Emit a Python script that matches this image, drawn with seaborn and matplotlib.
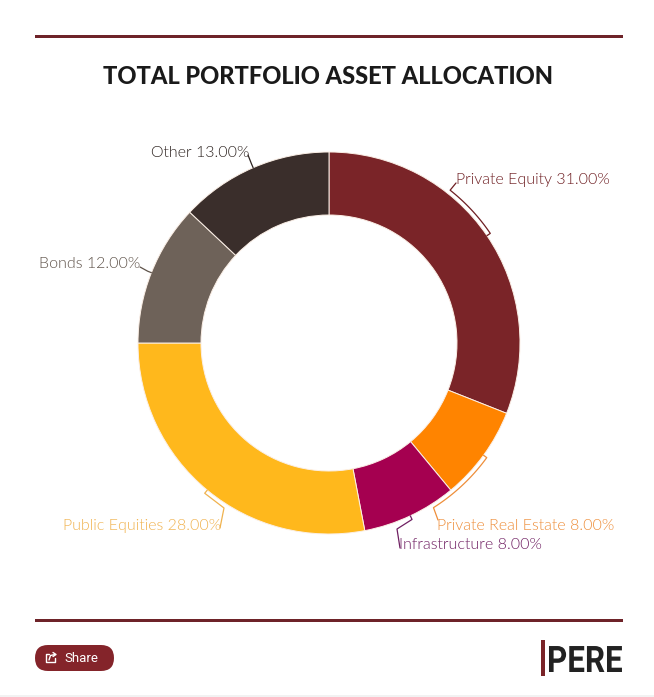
import numpy as np
import matplotlib
matplotlib.use("Agg")
import matplotlib.pyplot as plt
from matplotlib.patches import FancyBboxPatch, Rectangle
from matplotlib.patheffects import AbstractPathEffect
from matplotlib.transforms import Affine2D
import seaborn as sns

# Allocation data
categories = ["Private Equity", "Private Real Estate", "Infrastructure",
              "Public Equities", "Bonds", "Other"]
shares = [31.0, 8.0, 8.0, 28.0, 12.0, 13.0]
slice_hex = ["#7A2428", "#FF8400", "#A50050", "#FFB81C", "#6E6259", "#3A2E2B"]
label_hex = ["#6E1E22", "#EE8E3A", "#6F1F62", "#F0B24E", "#5E5249", "#2E2421"]

# Layout, in pixels
W, H = 654, 697
CX, CY = 329, 343
R_OUT, R_IN = 191, 128
label_anchor = [(456, 180, "left"), (437, 526, "left"), (399, 545, "left"),
                (221, 526, "right"), (140, 264, "right"), (249, 153, "right")]
# Each leader leaves the slice midpoint, optionally follows the ring to a
# clock angle, then runs through the elbow points towards its label.
leader_arc_end = [38.4, 147.6, None, None, None, None]
leader_tail = [[(456, 183)], [(438, 520)], [(397, 529), (400, 548)],
               [(224, 508), (220, 528)], [(140, 267)], [(248, 155)]]


class Squeeze(AbstractPathEffect):
    """Narrow a text's glyphs horizontally around a fixed x position."""

    def __init__(self, x0, factor):
        super().__init__()
        self.x0, self.factor = x0, factor

    def draw_path(self, renderer, gc, tpath, affine, rgbFace=None):
        squeeze = Affine2D().translate(-self.x0, 0).scale(self.factor, 1).translate(self.x0, 0)
        renderer.draw_path(gc, tpath, affine + squeeze, rgbFace)


sns.set_theme(style="white")
plt.rcParams["font.family"] = ["Lato", "DejaVu Sans"]
palette = sns.color_palette(slice_hex)

fig = plt.figure(figsize=(W / 100, H / 100), dpi=100, facecolor="white")
ax = fig.add_axes([0, 0, 1, 1])

# y grows downward here, so angles increase clockwise on screen
ax.pie(shares, colors=palette, center=(CX, CY), radius=R_OUT,
       startangle=-90, counterclock=True,
       wedgeprops=dict(width=R_OUT - R_IN, edgecolor="#FBEFE6", linewidth=0.7))
ax.set_xlim(0, W)
ax.set_ylim(H, 0)
ax.set_aspect("equal")
ax.axis("off")


def at_clock(deg, r):
    t = np.radians(deg)
    return CX + r * np.sin(t), CY - r * np.cos(t)


# Leader lines and labels
R_LEAD = 195
edges = np.cumsum([0] + shares) / sum(shares) * 360
for i, name in enumerate(categories):
    mid = (edges[i] + edges[i + 1]) / 2
    pts = [at_clock(mid, R_OUT)]
    end = leader_arc_end[i]
    if end is not None:
        pts += [at_clock(a, R_LEAD) for a in np.linspace(mid, end, 30)]
    else:
        pts.append(at_clock(mid, R_LEAD))
    pts += leader_tail[i]
    xs, ys = zip(*pts)
    ax.plot(xs, ys, color=label_hex[i], lw=0.9, solid_joinstyle="round")
    x, y, ha = label_anchor[i]
    ax.text(x, y, f"{name} {shares[i]:.2f}%", color=label_hex[i], fontsize=11.5,
            fontweight=300, ha=ha, va="center")

# Title and rules
rule = "#6E2329"
ax.add_patch(Rectangle((35, 35), 588, 3, color=rule, lw=0))
ax.add_patch(Rectangle((35, 619), 588, 3, color=rule, lw=0))
ax.text(328, 76, "TOTAL PORTFOLIO ASSET ALLOCATION", ha="center", va="center",
        fontsize=17.0, fontweight="black", color="#1A1A1A")

# Share button
ax.add_patch(FancyBboxPatch((35, 645), 79, 26, boxstyle="round,pad=0,rounding_size=13",
                            fc="#84242A", ec="none", lw=0))
ax.plot([49, 46, 46, 55, 55], [654, 654, 662, 662, 658], color="white", lw=1.0)
ax.plot([49, 50.5, 55], [660, 655.5, 654.5], color="white", lw=1.0)
ax.plot([53, 56, 53], [652.5, 654.5, 656.5], color="white", lw=1.0)
ax.text(64, 658.5, "Share", color="white", fontsize=9.5, family="Roboto",
        ha="left", va="center")

# Publication mark
ax.add_patch(Rectangle((541, 640), 4, 36, color="#7A2428", lw=0))
ax.text(547, 658, "PERE", fontsize=26.3, fontweight="bold", color="#222222",
        family="Roboto", ha="left", va="center_baseline",
        path_effects=[Squeeze(547, 0.86)])

# Page strip along the bottom edge
ax.add_patch(Rectangle((0, 695), W, 2, color="#F2F2F2", lw=0))

fig.savefig("out.png", dpi=100, facecolor="white")
